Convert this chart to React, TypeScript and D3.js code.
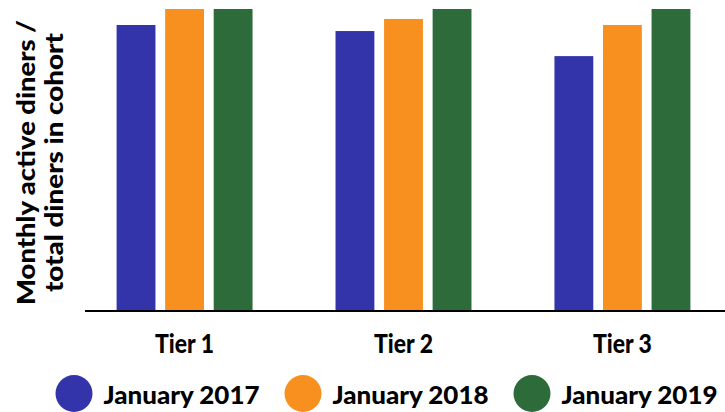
import React from "react";
import * as d3 from "d3";

// Share of diners in each cohort still active in the month
const tiers = ["Tier 1", "Tier 2", "Tier 3"];
const seriesNames = ["January 2017", "January 2018", "January 2019"];
const jan2017 = [0.947, 0.927, 0.844];
const jan2018 = [1.0, 0.967, 0.947];
const jan2019 = [1.0, 1.0, 1.0];
const seriesValues = [jan2017, jan2018, jan2019];
const colors = ["#3333aa", "#f7901f", "#2d6b3a"];

const W = 725;
const H = 412;
const FONT = "Lato, 'Noto Sans', sans-serif";

export default function App() {
  const baseY = 311;
  const x = d3
    .scaleBand<string>()
    .domain(tiers)
    .range([75, 732])
    .paddingInner(0.379)
    .paddingOuter(0.19);
  const xi = d3
    .scaleBand<string>()
    .domain(seriesNames)
    .range([0, x.bandwidth()])
    .paddingInner(0.2);
  const y = d3.scaleLinear().domain([0, 1]).range([baseY, 9]);

  const legendX = d3.scalePoint<string>().domain(seriesNames).range([74, 532]);

  return (
    <svg
      width={W}
      height={H}
      style={{ position: "absolute", left: 0, top: 0, background: "#fff" }}
      fontFamily={FONT}
    >
      {tiers.map((t, ti) =>
        seriesNames.map((s, si) => {
          const v = seriesValues[si][ti];
          return (
            <rect
              key={t + s}
              x={(x(t) ?? 0) + (xi(s) ?? 0)}
              y={y(v)}
              width={xi.bandwidth()}
              height={baseY - y(v)}
              fill={colors[si]}
            />
          );
        })
      )}
      <line x1={85} x2={W} y1={baseY} y2={baseY} stroke="#000" strokeWidth={2} />
      {tiers.map((t) => (
        <text
          key={t}
          x={(x(t) ?? 0) + x.bandwidth() / 2}
          y={353}
          textAnchor="middle"
          fontSize={26}
          fontWeight={900}
          fill="#000"
          textLength={59}
          lengthAdjust="spacingAndGlyphs"
        >
          {t}
        </text>
      ))}
      <g transform="rotate(-90)" fontSize={25} fontWeight={900} fill="#000">
        <text
          x={-162.5}
          y={35}
          textAnchor="middle"
          textLength={285}
          lengthAdjust="spacingAndGlyphs"
        >
          Monthly active diners /
        </text>
        <text
          x={-162.5}
          y={63}
          textAnchor="middle"
          textLength={259}
          lengthAdjust="spacingAndGlyphs"
        >
          total diners in cohort
        </text>
      </g>
      {seriesNames.map((s, si) => (
        <g key={s}>
          <circle cx={legendX(s)} cy={393.5} r={18.5} fill={colors[si]} />
          <text
            x={(legendX(s) ?? 0) + 29.5}
            y={404}
            fontSize={24}
            fontWeight={900}
            fill="#000"
            textLength={156}
            lengthAdjust="spacingAndGlyphs"
          >
            {s}
          </text>
        </g>
      ))}
    </svg>
  );
}
